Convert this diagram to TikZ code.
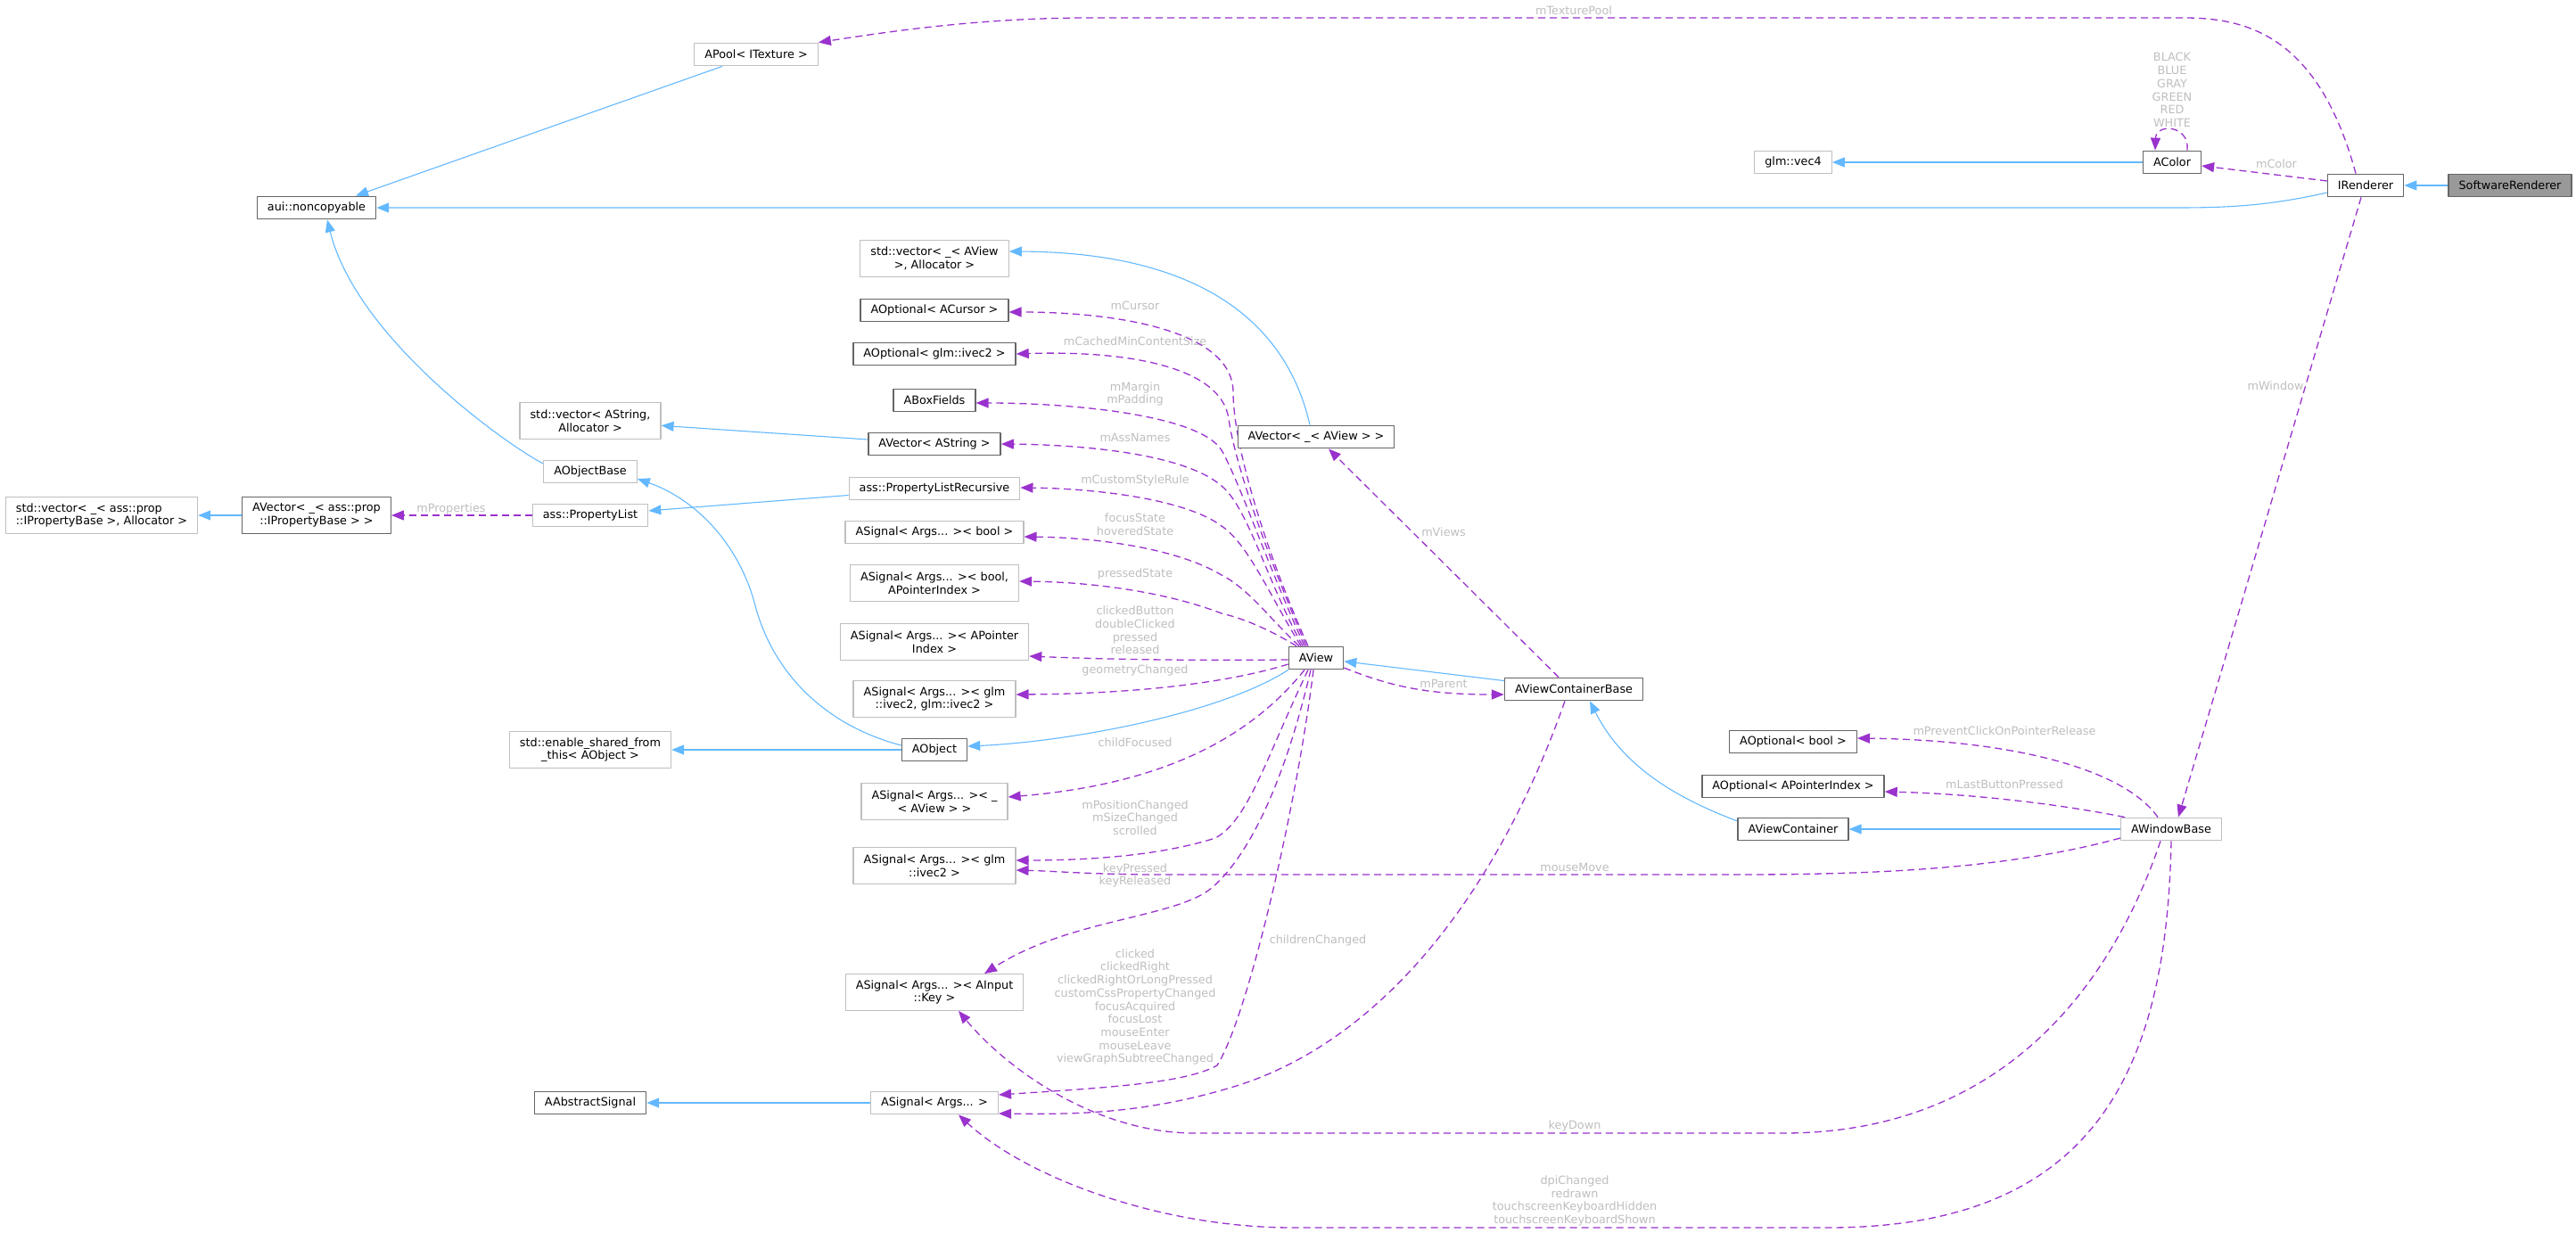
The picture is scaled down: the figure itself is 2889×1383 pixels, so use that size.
\documentclass[tikz,border=0pt]{standalone}
\usepackage{fontspec}
\setmainfont{DejaVu Sans}
\usetikzlibrary{arrows.meta}
\pgfdeclarelayer{edges}
\pgfsetlayers{edges,main}
\definecolor{inhblue}{HTML}{63B8FF}
\definecolor{usepurple}{HTML}{9A32CD}
\definecolor{labgray}{HTML}{BEBEBE}
\definecolor{boxdark}{HTML}{666666}
\definecolor{boxlight}{HTML}{BFBFBF}
\definecolor{boxsel}{HTML}{999999}
\begin{document}
\begin{tikzpicture}[x=1pt,y=-1pt,line join=round,>={Triangle[length=14pt,width=11pt]},font=\fontsize{12.8}{14.7}\selectfont,
	cls/.style={draw=boxdark,line width=1.3pt,fill=white,inner xsep=11.5pt,inner ysep=0pt,minimum height=25.5pt,align=center},
	ext/.style={cls,draw=boxlight},
	two/.style={minimum height=40.5pt},
	isa/.style={draw=inhblue,line width=1.1pt,->},
	uses/.style={draw=usepurple,line width=1.3pt,dash pattern=on 8pt off 5pt,->},
	lbl/.style={text=labgray,align=center,inner sep=0pt}]
	\useasboundingbox (0,0) rectangle (2889,1383);
	\node[cls,fill=boxsel] (sr) at (2815,208) {SoftwareRenderer};
	\node[cls] (irend) at (2653,208) {IRenderer};
	\node[cls] (acolor) at (2436,182) {AColor};
	\node[ext] (vec4) at (2011,182) {glm::vec4};
	\node[ext] (apool) at (848,61) {APool< ITexture >};
	\node[cls] (noncopy) at (355,233) {aui::noncopyable};
	\node[ext,two] (svecview) at (1048,290) {std::vector< \_< AView\\>, Allocator >};
	\node[cls] (optcursor) at (1048,348) {AOptional< ACursor >};
	\node[cls] (optivec) at (1048,397) {AOptional< glm::ivec2 >};
	\node[cls] (boxf) at (1048,449) {ABoxFields};
	\node[cls] (vecstr) at (1048,498) {AVector< AString >};
	\node[ext] (plrec) at (1048,548) {ass::PropertyListRecursive};
	\node[ext] (sigbool) at (1048,597) {ASignal< Args... >< bool >};
	\node[ext,two] (sigboolpi) at (1048,654) {ASignal< Args... >< bool,\\APointerIndex >};
	\node[ext,two] (sigpi) at (1048,720) {ASignal< Args... >< APointer\\Index >};
	\node[ext,two] (sigivec2) at (1048,784) {ASignal< Args... >< glm\\::ivec2, glm::ivec2 >};
	\node[cls] (aobject) at (1048,841) {AObject};
	\node[ext,two] (sigview) at (1048,899) {ASignal< Args... >< \_\\< AView > >};
	\node[ext,two] (sigivec) at (1048,971) {ASignal< Args... >< glm\\::ivec2 >};
	\node[ext,two] (sigkey) at (1048,1113) {ASignal< Args... >< AInput\\::Key >};
	\node[ext] (sigargs) at (1048,1237) {ASignal< Args... >};
	\node[ext,two] (svecstr) at (662,472) {std::vector< AString,\\Allocator >};
	\node[ext] (aobjbase) at (662,529) {AObjectBase};
	\node[ext] (proplist) at (662,578) {ass::PropertyList};
	\node[ext,two] (enshared) at (662,841) {std::enable\_shared\_from\\\_this< AObject >};
	\node[cls] (abssig) at (662,1237) {AAbstractSignal};
	\node[cls,two] (vecprop) at (355,578) {AVector< \_< ass::prop\\::IPropertyBase > >};
	\node[ext,two,align=left] (svecprop) at (114,578) {std::vector< \_< ass::prop\\::IPropertyBase >, Allocator >};
	\node[cls] (vecview) at (1476,490) {AVector< \_< AView > >};
	\node[cls] (aview) at (1476,738) {AView};
	\node[cls] (avcb) at (1765,773) {AViewContainerBase};
	\node[cls] (optbool) at (2011,832) {AOptional< bool >};
	\node[cls] (optpi) at (2011,882) {AOptional< APointerIndex >};
	\node[cls] (avc) at (2011,930) {AViewContainer};
	\node[ext] (awb) at (2435,930) {AWindowBase};
	\begin{pgfonlayer}{edges}
	\draw[isa] (sr) -- (irend);
	\draw[isa] ([yshift=-8pt]irend.west) .. controls (2540,232) and (2490,233) .. (2440,233) -- (noncopy.east);
	\draw[isa] ([xshift=-38pt]apool.south) -- ([xshift=44pt]noncopy.north);
	\draw[isa] ([yshift=9pt]aobjbase.west) .. controls (570,500) and (400,380) .. ([xshift=12pt]noncopy.south);
	\draw[isa] (acolor) -- (vec4);
	\draw[isa] (vecstr) -- (svecstr);
	\draw[isa] (plrec) -- (proplist);
	\draw[isa] (vecprop) -- (svecprop);
	\draw[isa] ([yshift=5pt]aobject.west) .. controls (930,815) and (870,760) .. (848,683) .. controls (830,610) and (780,560) .. ([yshift=-8pt]aobjbase.east);
	\draw[isa] (aobject) -- (enshared);
	\draw[isa] (aview.south west) .. controls (1370,800) and (1200,832) .. ([yshift=4pt]aobject.east);
	\draw[isa] ([xshift=-7pt]vecview.north) .. controls (1440,350) and (1330,283) .. ([yshift=8pt]svecview.east);
	\draw[isa] (avcb) -- (aview);
	\draw[isa] ([yshift=9pt]avc.west) .. controls (1880,895) and (1820,860) .. ([xshift=18pt]avcb.south);
	\draw[isa] (awb) -- (avc);
	\draw[isa] (sigargs) -- (abssig);
	\draw[uses] ([xshift=-11pt]irend.north) .. controls (2600,40) and (2520,20) .. (2449,20) -- (1223,20) .. controls (1100,20) and (1000,35) .. (apool.north east);
	\draw[uses] ([yshift=5pt]irend.west) -- ([yshift=-4pt]acolor.east);
	\draw[uses] ([xshift=17pt]acolor.north) .. controls (2456,140) and (2418,138) .. ([xshift=-19pt]acolor.north);
	\draw[uses] ([xshift=-5pt]irend.south) -- ([xshift=8pt]awb.north);
	\draw[uses] ([xshift=-9pt]aview.north) .. controls (1420,620) and (1383,500) .. (1383,440) .. controls (1383,370) and (1250,350) .. ([yshift=-2pt]optcursor.east);
	\draw[uses] ([xshift=-11pt]aview.north) .. controls (1420,620) and (1385,520) .. (1378,470) .. controls (1370,410) and (1260,393) .. (optivec.east);
	\draw[uses] ([xshift=-13pt]aview.north) .. controls (1420,630) and (1390,540) .. (1370,505) .. controls (1345,465) and (1200,452) .. ([yshift=-3pt]boxf.east);
	\draw[uses] ([xshift=-15pt]aview.north) .. controls (1420,650) and (1400,570) .. (1370,545) .. controls (1330,510) and (1220,499) .. (vecstr.east);
	\draw[uses] ([xshift=-17pt]aview.north) .. controls (1425,670) and (1400,610) .. (1370,590) .. controls (1330,560) and (1230,548) .. ([yshift=1pt]plrec.east);
	\draw[uses] ([xshift=-19pt]aview.north) .. controls (1425,695) and (1400,660) .. (1370,645) .. controls (1320,615) and (1230,603) .. ([yshift=-5pt]sigbool.east);
	\draw[uses] ([xshift=-22pt]aview.north) .. controls (1430,710) and (1400,695) .. (1370,688) .. controls (1310,665) and (1230,653) .. ([yshift=2pt]sigboolpi.east);
	\draw[uses] ([yshift=-2pt]aview.west) .. controls (1350,741) and (1250,740) .. ([yshift=-16pt]sigpi.east);
	\draw[uses] ([yshift=-7pt]aview.west) .. controls (1380,765) and (1280,778) .. ([yshift=5pt]sigivec2.east);
	\draw[uses] ([xshift=-13pt]aview.south) .. controls (1400,830) and (1300,880) .. ([yshift=5pt]sigview.east);
	\draw[uses] ([xshift=-9pt]aview.south) .. controls (1420,850) and (1400,920) .. (1363,940) .. controls (1300,960) and (1220,965) .. ([yshift=6pt]sigivec.east);
	\draw[uses] ([xshift=-6pt]aview.south) .. controls (1440,880) and (1400,960) .. (1360,995) .. controls (1320,1030) and (1200,1030) .. ([xshift=56pt]sigkey.north);
	\draw[uses] ([xshift=-3pt]aview.south) .. controls (1455,900) and (1400,1140) .. (1365,1195) .. controls (1330,1215) and (1240,1220) .. ([yshift=9pt]sigargs.east);
	\draw[uses] ([yshift=-11pt]aview.east) .. controls (1560,770) and (1600,779) .. ([yshift=-6pt]avcb.west);
	\draw[uses] ([xshift=-17pt]avcb.north) -- ([xshift=14pt]vecview.south);
	\draw[uses] ([xshift=-10pt]avcb.south) .. controls (1680,1000) and (1550,1170) .. (1380,1220) .. controls (1280,1250) and (1200,1250) .. ([yshift=-12pt]sigargs.east);
	\draw[uses] (proplist) -- (vecprop);
	\draw[uses] ([xshift=-15pt]awb.north) .. controls (2380,860) and (2250,830) .. ([yshift=4pt]optbool.east);
	\draw[uses] ([xshift=-52pt]awb.north) .. controls (2300,900) and (2200,890) .. ([yshift=-6pt]optpi.east);
	\draw[uses] ([yshift=-10pt]awb.west) .. controls (2250,975) and (2100,981) .. (1950,981) -- (1300,981) .. controls (1230,981) and (1180,977) .. ([yshift=-5pt]sigivec.east);
	\draw[uses] ([xshift=-12pt]awb.south) .. controls (2370,1100) and (2250,1271) .. (2000,1271) -- (1340,1271) .. controls (1230,1271) and (1130,1200) .. ([xshift=27pt]sigkey.south);
	\draw[uses] (awb.south) .. controls (2430,1200) and (2350,1377) .. (2050,1377) -- (1450,1377) .. controls (1300,1377) and (1150,1320) .. ([xshift=27pt]sigargs.south);
	\end{pgfonlayer}
	\node[lbl] (ltex) at (1765,12) {mTexturePool};
	\node[lbl] (lcol) at (2553,184) {mColor};
	\node[lbl] (lenum) at (2436,101) {BLACK\\BLUE\\GRAY\\GREEN\\RED\\WHITE};
	\node[lbl] (lwin) at (2552,433) {mWindow};
	\node[lbl] (lcur) at (1273,343) {mCursor};
	\node[lbl] (lmin) at (1273,383) {mCachedMinContentSize};
	\node[lbl] (lmar) at (1273,442) {mMargin\\mPadding};
	\node[lbl] (lass) at (1273,491) {mAssNames};
	\node[lbl] (lsty) at (1273,539) {mCustomStyleRule};
	\node[lbl] (lfoc) at (1273,588.5) {focusState\\hoveredState};
	\node[lbl] (lpre) at (1273,644) {pressedState};
	\node[lbl] (lbtn) at (1273,707) {clickedButton\\doubleClicked\\pressed\\released};
	\node[lbl] (lgeo) at (1273,752) {geometryChanged};
	\node[lbl] (lchf) at (1273,833) {childFocused};
	\node[lbl] (lpos) at (1273,917) {mPositionChanged\\mSizeChanged\\scrolled};
	\node[lbl] (lkey) at (1273,982) {keyPressed\\keyReleased};
	\node[lbl] (lclk) at (1273,1129.5) {clicked\\clickedRight\\clickedRightOrLongPressed\\customCssPropertyChanged\\focusAcquired\\focusLost\\mouseEnter\\mouseLeave\\viewGraphSubtreeChanged};
	\node[lbl] (lchc) at (1478,1055) {childrenChanged};
	\node[lbl] (lviews) at (1619,597) {mViews};
	\node[lbl] (lpar) at (1619,767) {mParent};
	\node[lbl] (lprop) at (506,571) {mProperties};
	\node[lbl] (lprev) at (2248,820) {mPreventClickOnPointerRelease};
	\node[lbl] (llast) at (2248,880) {mLastButtonPressed};
	\node[lbl] (lmove) at (1766,973) {mouseMove};
	\node[lbl] (ldown) at (1766,1263) {keyDown};
	\node[lbl] (ldpi) at (1766,1347) {dpiChanged\\redrawn\\touchscreenKeyboardHidden\\touchscreenKeyboardShown};
\end{tikzpicture}
\end{document}
